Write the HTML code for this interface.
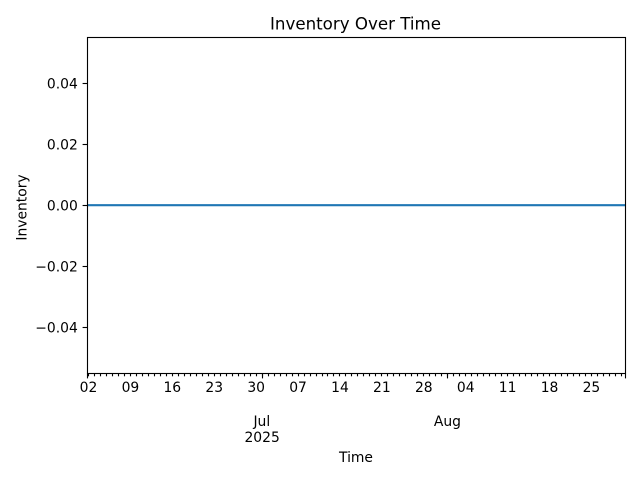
<!DOCTYPE html>
<html>
<head>
<meta charset="utf-8">
<title>Inventory Over Time</title>
<style>
html,body{margin:0;padding:0;background:#fff;}
svg{display:block;}
text{font-family:"DejaVu Sans","Liberation Sans",sans-serif;fill:#000;}
</style>
</head>
<body>
<svg id="chart" xmlns="http://www.w3.org/2000/svg" width="640" height="480" viewBox="0 0 640 480">
  <rect x="0" y="0" width="640" height="480" fill="#fff"/>
  <text x="355.5" y="29.5" font-size="16.67" text-anchor="middle">Inventory Over Time</text>
  <g id="plot"></g>
  <text x="356" y="462" font-size="13.89" text-anchor="middle">Time</text>
  <text transform="translate(26.5,207.5) rotate(-90)" font-size="13.89" text-anchor="middle">Inventory</text>
</svg>
<script>
const timeStamps = ['2025-06-01T20:00Z','2025-06-09T00:00Z','2025-06-16T00:00Z','2025-06-23T00:00Z','2025-06-30T00:00Z','2025-07-07T00:00Z','2025-07-14T00:00Z','2025-07-21T00:00Z','2025-07-28T00:00Z','2025-08-04T00:00Z','2025-08-11T00:00Z','2025-08-18T00:00Z','2025-08-25T00:00Z','2025-08-30T16:30Z'];
const inventoryValues = [0,0,0,0,0,0,0,0,0,0,0,0,0,0];
const yTickValues = [0.04,0.02,0,-0.02,-0.04];
const yTickLabels = ['0.04','0.02','0.00','\u22120.02','\u22120.04'];
const dayTickDates = ['2025-06-02','2025-06-09','2025-06-16','2025-06-23','2025-06-30','2025-07-07','2025-07-14','2025-07-21','2025-07-28','2025-08-04','2025-08-11','2025-08-18','2025-08-25'];
const dayTickLabels = ['02','09','16','23','30','07','14','21','28','04','11','18','25'];
const monthTickDates = ['2025-07-01','2025-08-01'];
const monthTickLabels = ['Jul','Aug'];
const yearLabel = ['2025'];
const yDomain = [-0.055,0.055];

const NS = 'http://www.w3.org/2000/svg';
const plot = document.getElementById('plot');
const left = 87.5, right = 625.5, top_ = 37.5, bottom = 373.5;
const DAY = 86400000;
const toMs = function (s) { return new Date(s.length === 10 ? s + 'T00:00Z' : s).getTime(); };
const xMin = toMs(timeStamps[0]);
const xMax = toMs(timeStamps[timeStamps.length - 1]);
const xScale = function (s) { return left + (toMs(s) - xMin) / (xMax - xMin) * (right - left); };
const xScaleMs = function (ms) { return left + (ms - xMin) / (xMax - xMin) * (right - left); };
const yScale = function (v) { return bottom - (v - yDomain[0]) / (yDomain[1] - yDomain[0]) * (bottom - top_); };
const snap = function (p) { return Math.floor(p) + 0.5; };

function tickLine(x1, y1, x2, y2) {
  const l = document.createElementNS(NS, 'line');
  l.setAttribute('x1', x1);
  l.setAttribute('y1', y1);
  l.setAttribute('x2', x2);
  l.setAttribute('y2', y2);
  l.setAttribute('stroke', '#000');
  l.setAttribute('stroke-width', '1.11');
  return l;
}
function label(str, x, y, anchor, size) {
  const t = document.createElementNS(NS, 'text');
  t.setAttribute('x', x);
  t.setAttribute('y', y);
  t.setAttribute('text-anchor', anchor);
  t.setAttribute('font-size', size);
  t.textContent = str;
  return t;
}

// data line (small offset to match the reference's pixel rows)
const linePts = timeStamps.map(function (s, i) { return xScale(s).toFixed(2) + ',' + (yScale(inventoryValues[i]) - 0.35).toFixed(2); }).join(' ');
const series = document.createElementNS(NS, 'polyline');


series.setAttribute('points', linePts);
series.setAttribute('fill', 'none');
series.setAttribute('stroke', '#1f77b4');
series.setAttribute('stroke-width', '2.08');
plot.appendChild(series);

// daily minor ticks
const firstDay = Math.ceil(xMin / DAY) * DAY;
for (let ms = firstDay; ms <= xMax; ms += DAY) {
  const mx = snap(xScaleMs(ms));
  const minor = tickLine(mx, bottom, mx, bottom + 2.8);
  
  
  plot.appendChild(minor);
}

// major ticks at month starts
monthTickDates.forEach(function (d, i) {
  const mx = snap(xScale(d));
  const major = tickLine(mx, bottom, mx, bottom + 4.9);
  
  
  plot.appendChild(major);
  const ml = label(monthTickLabels[i], xScale(d) - 0.3, 426, 'middle', 13.89);
  
  
  plot.appendChild(ml);
  if (i === 0) {
    const yl = label(yearLabel[0], xScale(d), 442, 'middle', 13.89);
    
    
    plot.appendChild(yl);
  }
});

// end ticks at the axis limits
[left, right].forEach(function (ex) {
  const endTick = tickLine(ex, bottom, ex, bottom + 4.9);
  
  
  plot.appendChild(endTick);
});

// day labels
dayTickDates.forEach(function (d, i) {
  const dl = label(dayTickLabels[i], xScale(d), 392, 'middle', 13.89);
  
  
  plot.appendChild(dl);
});

// y ticks
yTickValues.forEach(function (v, i) {
  const py = snap(yScale(v));
  const yt = tickLine(left - 4.9, py, left, py);
  
  
  plot.appendChild(yt);
  const yl = label(yTickLabels[i], 77.8, py + 5, 'end', 13.89);
  
  
  plot.appendChild(yl);
});

// axes frame
const frame = document.createElementNS(NS, 'rect');


frame.setAttribute('x', left);
frame.setAttribute('y', top_);
frame.setAttribute('width', right - left);
frame.setAttribute('height', bottom - top_);
frame.setAttribute('fill', 'none');
frame.setAttribute('stroke', '#000');
frame.setAttribute('stroke-width', '1.11');
plot.appendChild(frame);
</script>
</body>
</html>
